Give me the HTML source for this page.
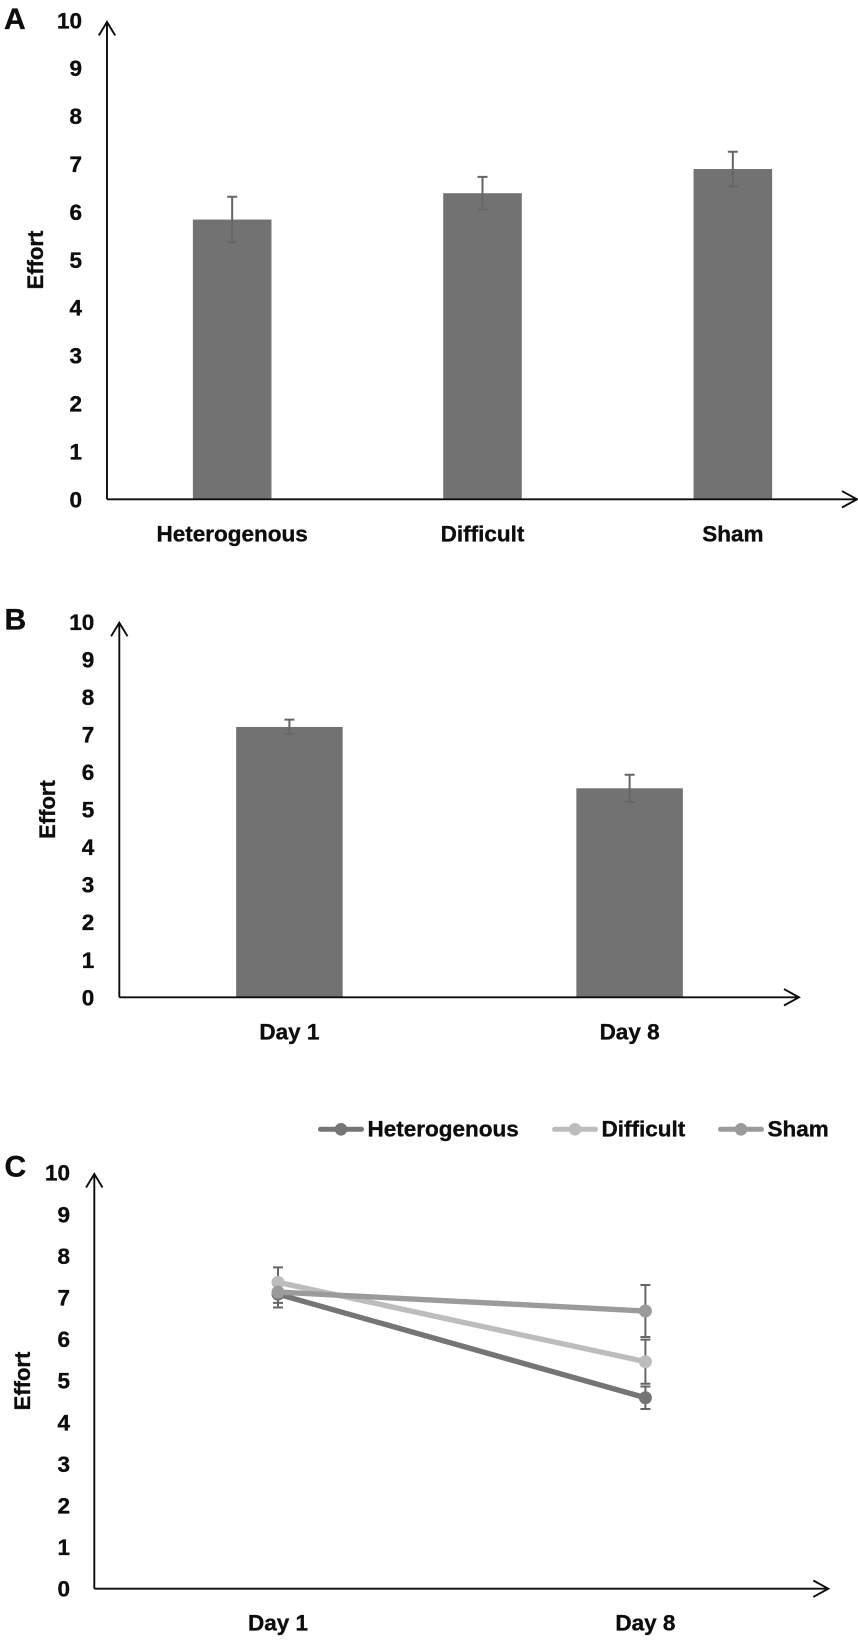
<!DOCTYPE html>
<html lang="en">
<head>
<meta charset="utf-8">
<title>Effort charts</title>
<style>
html,body{margin:0;padding:0;background:#fff;}
svg{display:block;}
text{font-family:"Liberation Sans",Arial,sans-serif;font-weight:bold;fill:#0d0d0d;stroke:#0d0d0d;stroke-width:0.35px;}
</style>
</head>
<body>
<svg id="figure" xmlns="http://www.w3.org/2000/svg" width="858" height="1640" viewBox="0 0 858 1640"></svg>
<script>
const tickLabels = ["0","1","2","3","4","5","6","7","8","9","10"];
const yAxisTitle = "Effort";

const panelACategories = ["Heterogenous","Difficult","Sham"];
const panelAValues = [5.84,6.39,6.895];
const panelAErrors = [0.476,0.34,0.36];

const panelBCategories = ["Day 1","Day 8"];
const panelBValues = [7.2,5.566];
const panelBErrors = [0.195,0.36];

const panelCCategories = ["Day 1","Day 8"];
const seriesNames = ["Heterogenous","Difficult","Sham"];
const heterogenousValues = [7.08,4.59];
const heterogenousErrors = [0.32,0.27];
const difficultValues = [7.365,5.457];
const difficultErrors = [0.36,0.53];
const shamValues = [7.13,6.675];
const shamErrors = [0.26,0.625];

const NS = "http://www.w3.org/2000/svg";
const svg = document.getElementById("figure");
const AXIS = "#0d0d0d", BAR = "#727272", ERR = "#666666";

function make(tag, props, parent) {
  const el = document.createElementNS(NS, tag);
  for (const k in props) el.setAttribute(k, props[k]);
  (parent || svg).appendChild(el);
  return el;
}
function group(name) {
  const g = make("g", {});
  
  
  return g;
}
function label(parent, name, str, x, y, anchor, size) {
  const t = make("text", {x:x, y:y, "text-anchor":anchor, "font-size":size}, parent);
  t.textContent = str;
  
  
  return t;
}
function axes(parent, p) {
  const yAx = make("path", {
    d:`M${p.x0} ${p.y0}V${p.top}M${p.x0-8.2} ${p.top+13.5}L${p.x0} ${p.top}L${p.x0+8.2} ${p.top+13.5}`,
    fill:"none", stroke:AXIS, "stroke-width":1.9}, parent);
  
  
  const xAx = make("path", {
    d:`M${p.x0} ${p.y0}H${p.right}M${p.right-15} ${p.y0-8.2}L${p.right} ${p.y0}L${p.right-15} ${p.y0+8.2}`,
    fill:"none", stroke:AXIS, "stroke-width":1.9}, parent);
  
  
  tickLabels.forEach(function (t) {
    label(parent, "y-tick-label", t, p.tickX, p.y(Number(t)) + 8, "end", 22.5);
  });
  const title = label(parent, "y-axis-title", yAxisTitle, 0, 0, "middle", 22);
  title.setAttribute("transform", `translate(${p.titleX} ${p.titleY}) rotate(-90)`);
}
function errorBar(parent, name, x, yFn, v, e) {
  const a = yFn(v + e), b = yFn(v - e);
  const el = make("path", {
    d:`M${x} ${a}V${b}M${x-5} ${a}H${x+5}M${x-5} ${b}H${x+5}`,
    fill:"none", stroke:ERR, "stroke-width":2}, parent);
  
  
}
function barPanel(name, letter, p, cats, vals, errs) {
  const g = group(name);
  label(g, "panel-letter", letter, p.letterX, p.letterY, "start", 30);
  const step = p.plotWidth / cats.length;
  const xc = function (i) { return p.x0 + step * (i + 0.5); };
  vals.forEach(function (v, i) {
    const r = make("rect", {x:xc(i) - p.barW / 2, y:p.y(v), width:p.barW, height:p.y(0) - p.y(v), fill:BAR}, g);
    
    
    errorBar(g, "error-bar", xc(i), p.y, v, errs[i]);
  });
  axes(g, p);
  cats.forEach(function (c, i) {
    label(g, "x-category-label", c, xc(i), p.catY, "middle", 22.5);
  });
}

// Panel A
const yA = function (v) { return 499.3 - 47.9 * v; };
barPanel("panel-a", "A", {x0:107, y0:499.3, top:22, right:857, y:yA, tickX:82,
  titleX:43, titleY:260, letterX:4, letterY:29, plotWidth:751, barW:78.6, catY:541.7},
  panelACategories, panelAValues, panelAErrors);

// Panel B
const yB = function (v) { return 997.3 - 37.55 * v; };
barPanel("panel-b", "B", {x0:119.3, y0:997.3, top:622.7, right:799, y:yB, tickX:94.3,
  titleX:55, titleY:809.5, letterX:4.5, letterY:629.5, plotWidth:680.4, barW:106.5, catY:1039.3},
  panelBCategories, panelBValues, panelBErrors);

// Panel C
const yC = function (v) { return 1588.7 - 41.6 * v; };
const pC = {x0:94.3, y0:1588.7, top:1174, right:828.3, y:yC, tickX:70, titleX:30, titleY:1381};
const gC = group("panel-c");
label(gC, "panel-letter", "C", 4.5, 1176.5, "start", 30);
axes(gC, pC);
const xC = function (i) { return pC.x0 + (367.4) * (i + 0.5); };
panelCCategories.forEach(function (c, i) {
  label(gC, "x-category-label", c, xC(i), 1630.7, "middle", 22.5);
});
const seriesColors = ["#757575", "#bdbdbd", "#9b9b9b"];
const seriesVals = [heterogenousValues, difficultValues, shamValues];
const seriesErrs = [heterogenousErrors, difficultErrors, shamErrors];
seriesVals.forEach(function (vals, s) {
  vals.forEach(function (v, i) {
    errorBar(gC, "error-bar-" + seriesNames[s].toLowerCase(), xC(i), yC, v, seriesErrs[s][i]);
  });
});
seriesVals.forEach(function (vals, s) {
  const pts = vals.map(function (v, i) { return xC(i) + "," + yC(v); }).join(" ");
  const line = make("polyline", {points:pts, fill:"none", stroke:seriesColors[s], "stroke-width":5.4}, gC);
  
  
  vals.forEach(function (v, i) {
    const dot = make("circle", {cx:xC(i), cy:yC(v), r:6.5, fill:seriesColors[s]}, gC);
    
    
  });
});

// Legend
const legend = group("legend");
const legendStarts = {Heterogenous:318, Difficult:552, Sham:718};
seriesNames.forEach(function (n, s) {
  const x = legendStarts[n];
  const entry = make("g", {}, legend);
  
  
  make("line", {x1:x + 2.5, x2:x + 43.5, y1:1129.3, y2:1129.3, stroke:seriesColors[s], "stroke-width":5, "stroke-linecap":"round"}, entry);
  make("circle", {cx:x + 23, cy:1129.3, r:6.3, fill:seriesColors[s]}, entry);
  label(entry, "legend-label", n, x + 49.5, 1136.7, "start", 22.5);
});
</script>
</body>
</html>
